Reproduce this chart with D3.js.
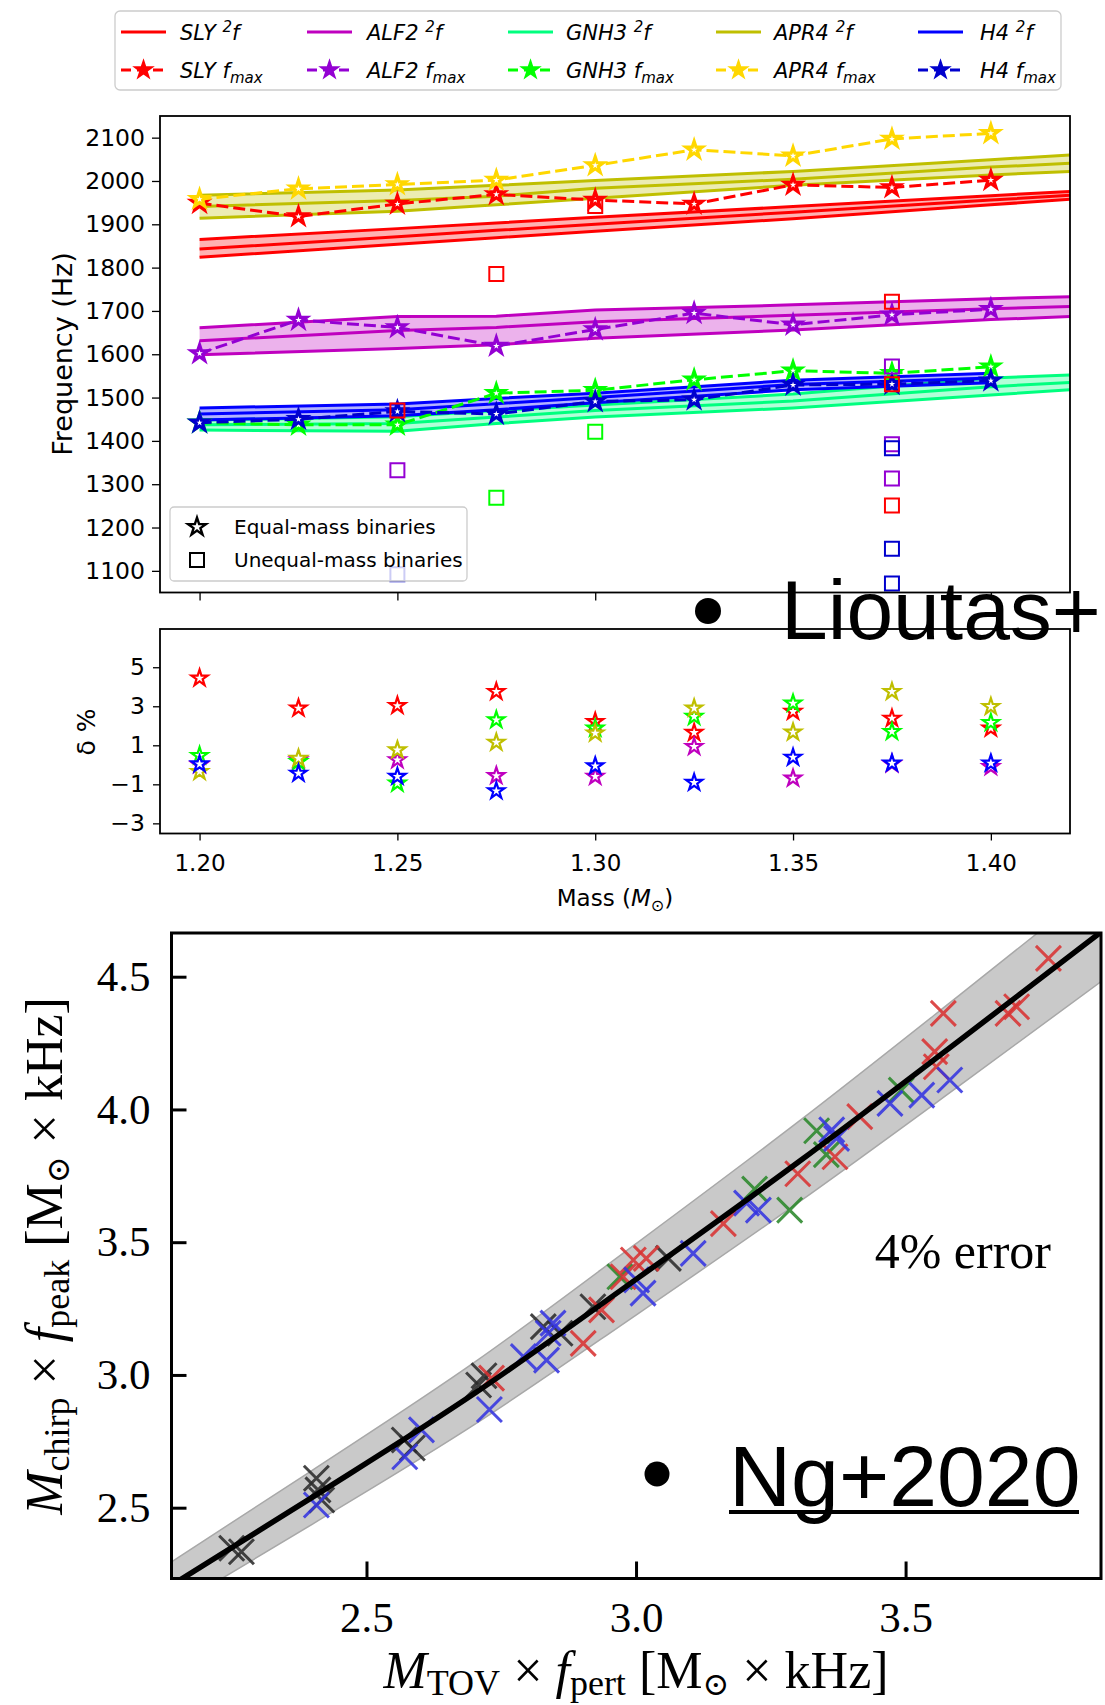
<!DOCTYPE html>
<html>
<head>
<meta charset="utf-8">
<script src="https://cdn.jsdelivr.net/npm/d3@7"></script>
<style>
  body { margin: 0; background: #fff; }
  svg { display: block; }
</style>
</head>
<body>
<svg id="fig" width="1105" height="1705"></svg>
<script>
// ---------------- data: peak frequencies vs. binary mass ----------------
const eosNames = ["SLY", "ALF2", "GNH3", "APR4", "H4"];
const bandColors = ["#ff0000", "#bf00bf", "#00ff7f", "#bfbf00", "#0000ff"];
const fmaxColors = ["#ff0000", "#9400d3", "#00ff00", "#ffd700", "#0000cd"];
const deltaColors = ["#ff0000", "#bf00bf", "#00ff00", "#bfbf00", "#0000ff"];

// 2f band (upper / middle / lower curves)
const bandMass = [1.20, 1.25, 1.275, 1.30, 1.35, 1.40, 1.42];
const h4BandMass = [1.20, 1.25, 1.275, 1.30, 1.35, 1.40];
const slyUpper  = [1865, 1890, 1903, 1916, 1941, 1966, 1976];
const slyMid    = [1843, 1871, 1886, 1900, 1928, 1956, 1967];
const slyLower  = [1824, 1854, 1869, 1884, 1913, 1945, 1958];
const alf2Upper = [1661, 1687, 1688, 1702, 1714, 1728, 1733];
const alf2Mid   = [1631, 1655, 1662, 1675, 1690, 1705, 1710];
const alf2Lower = [1599, 1613, 1622, 1637, 1656, 1680, 1687];
const gnh3Upper = [1448, 1456, 1470, 1483, 1508, 1545, 1552];
const gnh3Mid   = [1437, 1440, 1455, 1470, 1492, 1525, 1535];
const gnh3Lower = [1425, 1422, 1440, 1455, 1476, 1506, 1518];
const apr4Upper = [1967, 1979, 1990, 2001, 2022, 2049, 2060];
const apr4Mid   = [1941, 1955, 1965, 1983, 2004, 2032, 2041];
const apr4Lower = [1914, 1930, 1945, 1960, 1990, 2014, 2022];
const h4Upper   = [1476, 1485, 1498, 1510, 1540, 1556];
const h4Mid     = [1462, 1472, 1486, 1500, 1530, 1545];
const h4Lower   = [1448, 1458, 1472, 1488, 1518, 1534];

// f_max of equal-mass binaries
const massGrid = [1.20, 1.225, 1.25, 1.275, 1.30, 1.325, 1.35, 1.375, 1.40];
const slyFmax  = [1949, 1918, 1947, 1969, 1956, 1947, 1991, 1985, 2002];
const alf2Fmax = [1602, 1679, 1662, 1619, 1657, 1695, 1668, 1691, 1704];
const gnh3Fmax = [1442, 1437, 1437, 1510, 1517, 1541, 1562, 1556, 1571];
const apr4Fmax = [1958, 1982, 1992, 2002, 2036, 2072, 2058, 2097, 2110];
const h4Fmax   = [1442, 1450, 1468, 1462, 1491, 1495, 1529, 1531, 1539];

// unequal-mass binaries: mass, frequency, eos index
const unequalMass = [1.25, 1.275, 1.30, 1.375, 1.375, 1.375,
                     1.25, 1.375, 1.375, 1.375,
                     1.275, 1.30,
                     1.25, 1.375, 1.375, 1.375];
const unequalFreq = [1470, 1785, 1942, 1721, 1531, 1251,
                     1332, 1572, 1392, 1313,
                     1269, 1421,
                     1092, 1383, 1151, 1071];
const unequalEos  = [0, 0, 0, 0, 0, 0,
                     1, 1, 1, 1,
                     2, 2,
                     4, 4, 4, 4];

// relative deviation delta (%)
const slyDelta  = [4.44, 2.90, 3.03, 3.75, 2.21, 1.65, 2.73, 2.38, 1.87];
const alf2Delta = [0.00, 0.25, 0.25, -0.56, -0.60, 0.93, -0.69, 0.05, -0.10];
const gnh3Delta = [0.47, 0.16, -0.95, 2.30, 1.87, 2.47, 3.15, 1.70, 2.16];
const apr4Delta = [-0.35, 0.33, 0.76, 1.15, 1.62, 2.90, 1.67, 3.75, 2.98];
const h4Delta   = [0.04, -0.44, -0.60, -1.34, -0.06, -0.91, 0.38, 0.08, 0.08];

const freqTicks  = [1100, 1200, 1300, 1400, 1500, 1600, 1700, 1800, 1900, 2000, 2100];
const massTicks  = [1.20, 1.25, 1.30, 1.35, 1.40];
const deltaTicks = [-3, -1, 1, 3, 5];

// ---------------- data: universal relation ----------------
const fitX = [2.14, 2.40, 2.70, 3.00, 3.30, 3.60, 3.87];
const fitY = [2.21, 2.54, 2.93, 3.36, 3.80, 4.26, 4.68];
const errorFrac = 0.04;   // "4% error"
const crossBlackX = [2.250, 2.268, 2.407, 2.410, 2.417, 2.570, 2.585, 2.708, 2.718, 2.828, 2.859, 2.920, 3.060];
const crossBlackY = [2.347, 2.334, 2.611, 2.567, 2.529, 2.755, 2.725, 2.962, 2.997, 3.182, 3.157, 3.257, 3.439];
const crossGreenX = [2.970, 3.220, 3.285, 3.335, 3.353, 3.492];
const crossGreenY = [3.370, 3.700, 3.621, 3.920, 3.830, 4.073];
const crossRedX = [2.732, 2.902, 2.936, 2.976, 2.995, 3.019, 3.162, 3.300, 3.369, 3.415, 3.554, 3.557, 3.570, 3.690, 3.706, 3.765];
const crossRedY = [2.988, 3.119, 3.245, 3.370, 3.433, 3.439, 3.570, 3.758, 3.822, 3.973, 4.218, 4.161, 4.362, 4.362, 4.387, 4.569];
const crossBlueX = [2.407, 2.571, 2.602, 2.728, 2.791, 2.834, 2.837, 2.846, 3.001, 3.013, 3.106, 3.205, 3.227, 3.363, 3.372, 3.471, 3.530, 3.582];
const crossBlueY = [2.510, 2.692, 2.793, 2.870, 3.069, 3.056, 3.157, 3.195, 3.358, 3.308, 3.458, 3.647, 3.621, 3.923, 3.891, 4.023, 4.054, 4.111];
const relTicksY = [2.5, 3.0, 3.5, 4.0, 4.5];
const relTicksX = [2.5, 3.0, 3.5];

// ---------------- helpers ----------------
const svg = d3.select("#fig");
const SANS = "'DejaVu Sans', sans-serif";
const SERIF = "'Liberation Serif', 'DejaVu Serif', serif";
const HELV = "'Liberation Sans', Arial, sans-serif";

const bandUpper = [slyUpper, alf2Upper, gnh3Upper, apr4Upper, h4Upper];
const bandMid   = [slyMid, alf2Mid, gnh3Mid, apr4Mid, h4Mid];
const bandLower = [slyLower, alf2Lower, gnh3Lower, apr4Lower, h4Lower];
const bandMasses = [bandMass, bandMass, bandMass, bandMass, h4BandMass];
const fmaxSeries = [slyFmax, alf2Fmax, gnh3Fmax, apr4Fmax, h4Fmax];
const deltaSeries = [slyDelta, alf2Delta, gnh3Delta, apr4Delta, h4Delta];

const starPath = d3.symbol().type(d3.symbolStar).size(82)();
const starPathBig = d3.symbol().type(d3.symbolStar).size(100)();
const squarePath = d3.symbol().type(d3.symbolSquare).size(196)();

function styleAxis(g, font, size, tw) {
  g.attr("font-family", null).attr("font-size", null);
  g.select(".domain").remove();
  g.selectAll(".tick line").attr("stroke", "#000").attr("stroke-width", tw);
  g.selectAll(".tick text").attr("fill", "#000")
    .style("font-family", font).style("font-size", size + "px");
}

const defs = svg.append("defs");
function clip(id, x0, y0, x1, y1) {
  defs.append("clipPath").attr("id", id).append("rect")
    .attr("x", x0).attr("y", y0).attr("width", x1 - x0).attr("height", y1 - y0);
}

// ================= top panel: frequencies =================
const xTop = d3.scaleLinear().domain([1.19, 1.42]).range([160, 1070]);
const yTop = d3.scaleLinear().domain([1050, 2150]).range([592.5, 116]);
clip("clipTop", 160, 116, 1070, 592.5);

const gTop = svg.append("g").attr("clip-path", "url(#clipTop)");

// bands
eosNames.forEach((name, i) => {
  const pts = bandMasses[i].map((m, k) => ({ m, u: bandUpper[i][k], c: bandMid[i][k], l: bandLower[i][k] }));
  gTop.append("path").datum(pts)
    .attr("d", d3.area().x(d => xTop(d.m)).y0(d => yTop(d.l)).y1(d => yTop(d.u)))
    .attr("fill", bandColors[i]).attr("fill-opacity", 0.3);
  ["u", "c", "l"].forEach(key => {
    gTop.append("path").datum(pts)
      .attr("d", d3.line().x(d => xTop(d.m)).y(d => yTop(d[key])))
      .attr("fill", "none").attr("stroke", bandColors[i])
      .attr("stroke-width", 3).attr("stroke-linejoin", "round");
  });
});

// f_max dashed lines with stars
eosNames.forEach((name, i) => {
  const pts = massGrid.map((m, k) => ({ m, f: fmaxSeries[i][k] }));
  gTop.append("path").datum(pts)
    .attr("d", d3.line().x(d => xTop(d.m)).y(d => yTop(d.f)))
    .attr("fill", "none").attr("stroke", fmaxColors[i])
    .attr("stroke-width", 3).attr("stroke-dasharray", "12,5");
  gTop.selectAll(null).data(pts).enter().append("path")
    .attr("d", starPath)
    .attr("transform", d => `translate(${xTop(d.m)},${yTop(d.f)})`)
    .attr("fill", "#fff").attr("stroke", fmaxColors[i]).attr("stroke-width", 3.2)
    .attr("stroke-linejoin", "miter");
});

// unequal-mass squares
const sq = unequalMass.map((m, k) => ({ m, f: unequalFreq[k], e: unequalEos[k] }));
gTop.selectAll(null).data(sq).enter().append("path")
  .attr("d", squarePath)
  .attr("transform", d => `translate(${xTop(d.m)},${yTop(d.f)})`)
  .attr("fill", "none").attr("stroke", d => fmaxColors[d.e]).attr("stroke-width", 2);

// axes
const axTopL = svg.append("g").attr("transform", "translate(160,0)")
  .call(d3.axisLeft(yTop).tickValues(freqTicks).tickFormat(d3.format("d")).tickSize(8).tickPadding(7));
styleAxis(axTopL, SANS, 23.5, 1.3);
const axTopB = svg.append("g").attr("transform", "translate(0,592.5)")
  .call(d3.axisBottom(xTop).tickValues(massTicks).tickFormat("").tickSize(8));
styleAxis(axTopB, SANS, 23, 1.3);
svg.append("rect").attr("x", 160).attr("y", 116).attr("width", 910).attr("height", 476.5)
  .attr("fill", "none").attr("stroke", "#000").attr("stroke-width", 1.8);

svg.append("text")
  .attr("transform", "translate(72,354) rotate(-90)")
  .attr("text-anchor", "middle")
  .style("font-family", SANS).style("font-size", "27px")
  .text("Frequency (Hz)");

// inner legend (marker shapes)
const il = svg.append("g");
il.append("rect").attr("x", 170).attr("y", 507).attr("width", 297).attr("height", 74).attr("rx", 4)
  .attr("fill", "#fff").attr("fill-opacity", 0.8).attr("stroke", "#cccccc").attr("stroke-width", 1.3);
il.append("path").attr("d", starPathBig).attr("transform", "translate(197,527)")
  .attr("fill", "#fff").attr("stroke", "#000").attr("stroke-width", 2.4);
il.append("path").attr("d", squarePath).attr("transform", "translate(197,560)")
  .attr("fill", "none").attr("stroke", "#000").attr("stroke-width", 2);
il.append("text").attr("x", 234).attr("y", 534).style("font-family", SANS).style("font-size", "20px")
  .text("Equal-mass binaries");
il.append("text").attr("x", 234).attr("y", 567).style("font-family", SANS).style("font-size", "20px")
  .text("Unequal-mass binaries");

// ================= lower panel: delta % =================
const yLow = d3.scaleLinear().domain([-3.52, 6.96]).range([833.5, 629]);
clip("clipLow", 160, 629, 1070, 833.5);
const gLow = svg.append("g").attr("clip-path", "url(#clipLow)");
eosNames.forEach((name, i) => {
  const pts = massGrid.map((m, k) => ({ m, d: deltaSeries[i][k] }));
  gLow.selectAll(null).data(pts).enter().append("path")
    .attr("d", starPath)
    .attr("transform", d => `translate(${xTop(d.m)},${yLow(d.d)})`)
    .attr("fill", "#fff").attr("stroke", deltaColors[i]).attr("stroke-width", 2.2);
});
const axLowL = svg.append("g").attr("transform", "translate(160,0)")
  .call(d3.axisLeft(yLow).tickValues(deltaTicks).tickFormat(d3.format("d")).tickSize(7).tickPadding(8));
styleAxis(axLowL, SANS, 23.5, 1.3);
const axLowB = svg.append("g").attr("transform", "translate(0,833.5)")
  .call(d3.axisBottom(xTop).tickValues(massTicks).tickFormat(d3.format(".2f")).tickSize(7).tickPadding(14));
styleAxis(axLowB, SANS, 23, 1.3);
svg.append("rect").attr("x", 160).attr("y", 629).attr("width", 910).attr("height", 204.5)
  .attr("fill", "none").attr("stroke", "#000").attr("stroke-width", 1.8);

const mlab = svg.append("text").attr("x", 615).attr("y", 906).attr("text-anchor", "middle")
  .style("font-family", SANS).style("font-size", "23px");
mlab.append("tspan").text("Mass (");
mlab.append("tspan").style("font-style", "italic").text("M");
mlab.append("tspan").attr("dy", 5).style("font-size", "16px").text("⊙");
mlab.append("tspan").attr("dy", -5).text(")");

svg.append("text")
  .attr("transform", "translate(95,732) rotate(-90)")
  .attr("text-anchor", "middle")
  .style("font-family", SANS).style("font-size", "25px")
  .text("δ %");

// ================= top legend =================
const legX = [121, 307, 508, 716, 918];
const legTX = [180, 367, 566, 774, 980];
const lg = svg.append("g");
lg.append("rect").attr("x", 115).attr("y", 11).attr("width", 946).attr("height", 79).attr("rx", 5)
  .attr("fill", "#fff").attr("stroke", "#cccccc").attr("stroke-width", 1.3);
eosNames.forEach((name, i) => {
  lg.append("line").attr("x1", legX[i]).attr("x2", legX[i] + 45).attr("y1", 32).attr("y2", 32)
    .attr("stroke", bandColors[i]).attr("stroke-width", 3);
  lg.append("line").attr("x1", legX[i]).attr("x2", legX[i] + 45).attr("y1", 70).attr("y2", 70)
    .attr("stroke", fmaxColors[i]).attr("stroke-width", 3).attr("stroke-dasharray", "10,6");
  lg.append("path").attr("d", starPathBig).attr("transform", `translate(${legX[i] + 22.5},70)`)
    .attr("fill", fmaxColors[i]).attr("stroke", fmaxColors[i]).attr("stroke-width", 1.5);
  const t1 = lg.append("text").attr("x", legTX[i]).attr("y", 39.5)
    .style("font-family", SANS).style("font-size", "21px").style("font-style", "italic");
  t1.append("tspan").text(name + " ");
  t1.append("tspan").attr("dy", -8).style("font-size", "15px").text("2");
  t1.append("tspan").attr("dy", 8).text("f");
  const t2 = lg.append("text").attr("x", legTX[i]).attr("y", 77.5)
    .style("font-family", SANS).style("font-size", "21px").style("font-style", "italic");
  t2.append("tspan").text(name + " f");
  t2.append("tspan").attr("dy", 5).style("font-size", "15px").text("max");
});

// ================= bottom chart: universal relation =================
const xBot = d3.scaleLinear().domain([2.1383, 3.8625]).range([171.5, 1101]);
const yBot = d3.scaleLinear().domain([2.2333, 4.6646]).range([1578.5, 933]);
clip("clipBot", 171.5, 933, 1101, 1578.5);
const gBot = svg.append("g").attr("clip-path", "url(#clipBot)");

const fitPts = fitX.map((x, k) => ({ x, y: fitY[k] }));
gBot.append("path").datum(fitPts)
  .attr("d", d3.area().curve(d3.curveMonotoneX).x(d => xBot(d.x))
    .y0(d => yBot(d.y * (1 - errorFrac))).y1(d => yBot(d.y * (1 + errorFrac))))
  .attr("fill", "#c9c9c9");
[1 + errorFrac, 1 - errorFrac].forEach(s => {
  gBot.append("path").datum(fitPts)
    .attr("d", d3.line().curve(d3.curveMonotoneX).x(d => xBot(d.x)).y(d => yBot(d.y * s)))
    .attr("fill", "none").attr("stroke", "#a8a8a8").attr("stroke-width", 1.5);
});

const crossGroups = [
  { xs: crossBlackX, ys: crossBlackY, color: "#2b2b2b" },
  { xs: crossGreenX, ys: crossGreenY, color: "#2a872a" },
  { xs: crossRedX, ys: crossRedY, color: "#d83232" },
  { xs: crossBlueX, ys: crossBlueY, color: "#3434e0" }
];
const h = 12.5;
crossGroups.forEach(grp => {
  const pts = grp.xs.map((x, k) => ({ x, y: grp.ys[k] }));
  gBot.selectAll(null).data(pts).enter().append("path")
    .attr("d", d => {
      const cx = xBot(d.x), cy = yBot(d.y);
      return `M${cx - h},${cy - h}L${cx + h},${cy + h}M${cx - h},${cy + h}L${cx + h},${cy - h}`;
    })
    .attr("stroke", grp.color).attr("stroke-width", 3).attr("stroke-opacity", 0.88).attr("fill", "none");
});

gBot.append("path").datum(fitPts)
  .attr("d", d3.line().curve(d3.curveMonotoneX).x(d => xBot(d.x)).y(d => yBot(d.y)))
  .attr("fill", "none").attr("stroke", "#000").attr("stroke-width", 5.5);

const axBotL = svg.append("g").attr("transform", "translate(171.5,0)")
  .call(d3.axisLeft(yBot).tickValues(relTicksY).tickFormat(d3.format(".1f")).tickSize(-15).tickPadding(21));
styleAxis(axBotL, SERIF, 43, 3);
const axBotB = svg.append("g").attr("transform", "translate(0,1578.5)")
  .call(d3.axisBottom(xBot).tickValues(relTicksX).tickFormat(d3.format(".1f")).tickSize(-17).tickPadding(23));
styleAxis(axBotB, SERIF, 43, 3);
svg.append("rect").attr("x", 171.5).attr("y", 933).attr("width", 929.5).attr("height", 645.5)
  .attr("fill", "none").attr("stroke", "#000").attr("stroke-width", 3);

svg.append("text").attr("x", 1051).attr("y", 1268).attr("text-anchor", "end")
  .style("font-family", SERIF).style("font-size", "50px").text("4% error");

// axis labels in math style: M_sub1 × f_sub2 [M_⊙ × kHz]
function mathLabel(sel, sub1, sub2) {
  sel.style("font-family", SERIF).style("font-size", "52px");
  sel.append("tspan").style("font-style", "italic").text("M");
  sel.append("tspan").attr("dy", 7).style("font-size", "36px").text(sub1);
  sel.append("tspan").attr("dy", -7).text(" × ");
  sel.append("tspan").style("font-style", "italic").text("f");
  sel.append("tspan").attr("dy", 7).style("font-size", "36px").text(sub2);
  sel.append("tspan").attr("dy", -7).text("  [M");
  sel.append("tspan").attr("dy", 7).style("font-size", "32px").style("font-family", "'DejaVu Serif', serif").text("⊙");
  sel.append("tspan").attr("dy", -7).text(" × kHz]");
}
mathLabel(svg.append("text").attr("x", 636).attr("y", 1688).attr("text-anchor", "middle"), "TOV", "pert");
mathLabel(svg.append("text").attr("transform", "translate(62,1256) rotate(-90)").attr("text-anchor", "middle"), "chirp", "peak");

// ================= reference tags =================
svg.append("circle").attr("cx", 708).attr("cy", 611).attr("r", 13).attr("fill", "#000");
svg.append("text").attr("x", 781).attr("y", 639)
  .style("font-family", HELV).style("font-size", "84px").text("Lioutas+");

svg.append("circle").attr("cx", 657).attr("cy", 1474).attr("r", 12.5).attr("fill", "#000");
svg.append("text").attr("x", 729).attr("y", 1506)
  .style("font-family", HELV).style("font-size", "86px").text("Ng+2020");
svg.append("rect").attr("x", 729).attr("y", 1510).attr("width", 350).attr("height", 4).attr("fill", "#000");
</script>
</body>
</html>
